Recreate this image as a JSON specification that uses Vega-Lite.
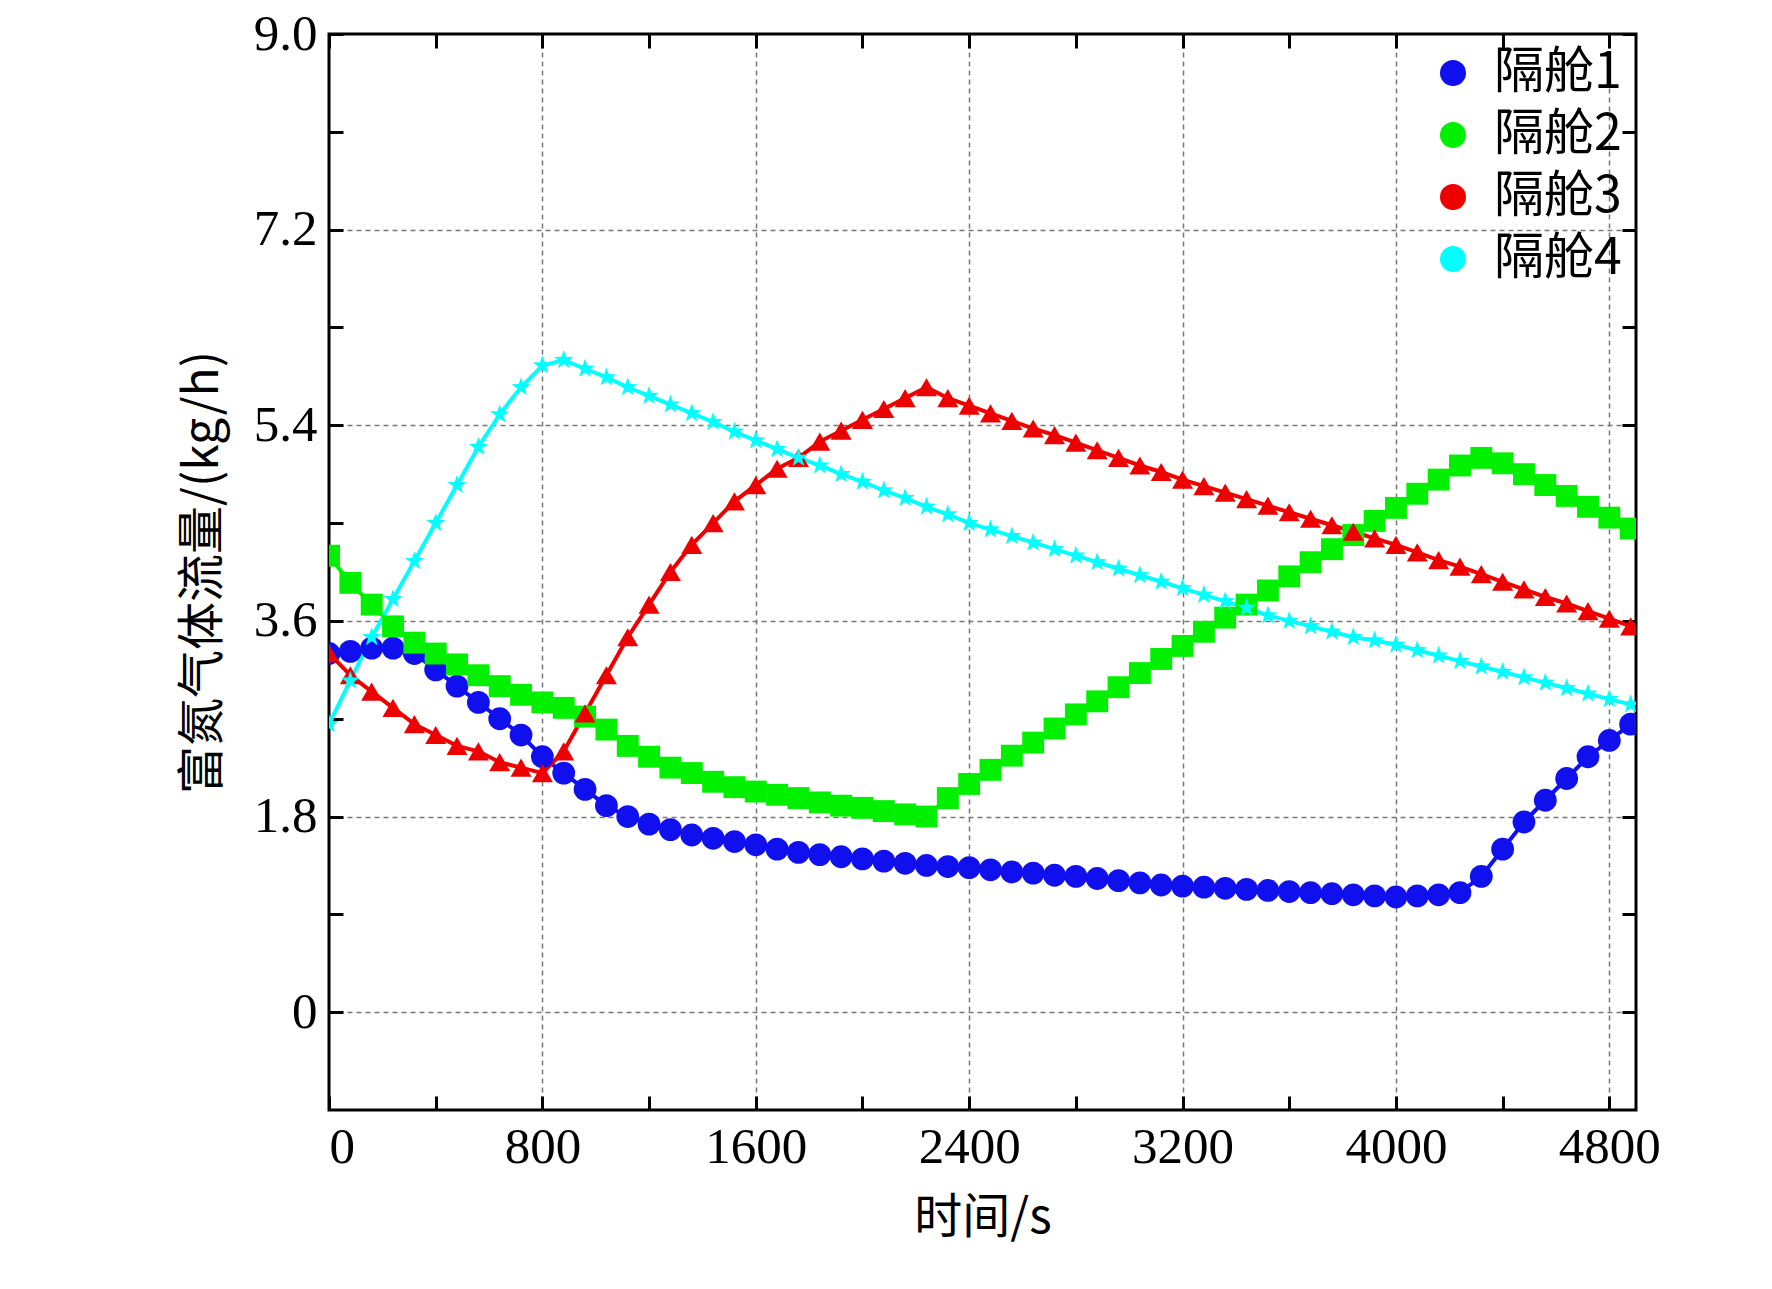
{
  "$schema": "https://vega.github.io/schema/vega-lite/v6.json",
  "autosize": "none",
  "padding": {"left": 329, "top": 34, "right": 136, "bottom": 179},
  "width": 1307,
  "height": 1076,
  "background": "white",
  "config": {
    "font": "Liberation Serif",
    "view": {"stroke": "black", "strokeWidth": 3},
    "axis": {
      "labelFont": "Liberation Serif", "labelFontSize": 51, "labelColor": "black",
      "titleFont": "Noto Sans CJK SC", "titleFontSize": 48, "titleFontWeight": "normal", "titleColor": "black",
      "domain": false, "tickColor": "black", "tickWidth": 3, "tickSize": -14, "labelPadding": 26,
      "gridColor": "#777777", "gridDash": [5, 4], "gridWidth": 1.5
    },
    "legend": {
      "orient": "top-right", "title": null, "labelFont": "Noto Sans CJK SC", "labelFontSize": 50,
      "labelColor": "black", "symbolSize": 600, "rowPadding": 12, "offset": 14, "labelOffset": 16
    }
  },
  "data": {"values": [
    {"t":0,"a":3.3,"b":4.2,"c":3.3,"d":2.65},
    {"t":80,"a":3.32,"b":3.95,"c":3.1,"d":3.05},
    {"t":160,"a":3.35,"b":3.75,"c":2.95,"d":3.45},
    {"t":240,"a":3.35,"b":3.55,"c":2.8,"d":3.8},
    {"t":320,"a":3.3,"b":3.4,"c":2.65,"d":4.15},
    {"t":400,"a":3.15,"b":3.3,"c":2.55,"d":4.5},
    {"t":480,"a":3.0,"b":3.2,"c":2.45,"d":4.85},
    {"t":560,"a":2.85,"b":3.1,"c":2.4,"d":5.2},
    {"t":640,"a":2.7,"b":3.0,"c":2.3,"d":5.5},
    {"t":720,"a":2.55,"b":2.92,"c":2.25,"d":5.75},
    {"t":800,"a":2.35,"b":2.85,"c":2.2,"d":5.95},
    {"t":880,"a":2.2,"b":2.8,"c":2.4,"d":6.0},
    {"t":960,"a":2.05,"b":2.72,"c":2.75,"d":5.92},
    {"t":1040,"a":1.9,"b":2.6,"c":3.1,"d":5.84},
    {"t":1120,"a":1.8,"b":2.45,"c":3.45,"d":5.75},
    {"t":1200,"a":1.73,"b":2.35,"c":3.75,"d":5.67},
    {"t":1280,"a":1.68,"b":2.25,"c":4.05,"d":5.59},
    {"t":1360,"a":1.63,"b":2.2,"c":4.3,"d":5.51},
    {"t":1440,"a":1.6,"b":2.12,"c":4.5,"d":5.43},
    {"t":1520,"a":1.57,"b":2.07,"c":4.7,"d":5.34},
    {"t":1600,"a":1.54,"b":2.03,"c":4.85,"d":5.26},
    {"t":1680,"a":1.5,"b":2.0,"c":5.0,"d":5.18},
    {"t":1760,"a":1.47,"b":1.97,"c":5.1,"d":5.1},
    {"t":1840,"a":1.45,"b":1.93,"c":5.25,"d":5.03},
    {"t":1920,"a":1.43,"b":1.9,"c":5.35,"d":4.95},
    {"t":2000,"a":1.41,"b":1.88,"c":5.45,"d":4.88},
    {"t":2080,"a":1.39,"b":1.85,"c":5.55,"d":4.8},
    {"t":2160,"a":1.37,"b":1.82,"c":5.65,"d":4.73},
    {"t":2240,"a":1.35,"b":1.8,"c":5.75,"d":4.65},
    {"t":2320,"a":1.34,"b":1.97,"c":5.65,"d":4.58},
    {"t":2400,"a":1.33,"b":2.1,"c":5.58,"d":4.5},
    {"t":2480,"a":1.31,"b":2.23,"c":5.51,"d":4.44},
    {"t":2560,"a":1.29,"b":2.36,"c":5.44,"d":4.38},
    {"t":2640,"a":1.28,"b":2.48,"c":5.37,"d":4.32},
    {"t":2720,"a":1.26,"b":2.61,"c":5.31,"d":4.26},
    {"t":2800,"a":1.25,"b":2.74,"c":5.24,"d":4.2},
    {"t":2880,"a":1.23,"b":2.86,"c":5.17,"d":4.14},
    {"t":2960,"a":1.21,"b":2.99,"c":5.1,"d":4.08},
    {"t":3040,"a":1.19,"b":3.12,"c":5.03,"d":4.02},
    {"t":3120,"a":1.17,"b":3.25,"c":4.97,"d":3.96},
    {"t":3200,"a":1.16,"b":3.37,"c":4.9,"d":3.9},
    {"t":3280,"a":1.15,"b":3.5,"c":4.84,"d":3.84},
    {"t":3360,"a":1.14,"b":3.63,"c":4.78,"d":3.78},
    {"t":3440,"a":1.13,"b":3.75,"c":4.72,"d":3.72},
    {"t":3520,"a":1.12,"b":3.88,"c":4.66,"d":3.65},
    {"t":3600,"a":1.11,"b":4.01,"c":4.6,"d":3.6},
    {"t":3680,"a":1.1,"b":4.14,"c":4.54,"d":3.55},
    {"t":3760,"a":1.09,"b":4.26,"c":4.48,"d":3.5},
    {"t":3840,"a":1.08,"b":4.39,"c":4.42,"d":3.45},
    {"t":3920,"a":1.07,"b":4.52,"c":4.36,"d":3.42},
    {"t":4000,"a":1.06,"b":4.64,"c":4.3,"d":3.38},
    {"t":4080,"a":1.07,"b":4.77,"c":4.23,"d":3.33},
    {"t":4160,"a":1.08,"b":4.9,"c":4.16,"d":3.28},
    {"t":4240,"a":1.1,"b":5.03,"c":4.1,"d":3.23},
    {"t":4320,"a":1.25,"b":5.1,"c":4.03,"d":3.18},
    {"t":4400,"a":1.5,"b":5.05,"c":3.96,"d":3.13},
    {"t":4480,"a":1.75,"b":4.95,"c":3.89,"d":3.08},
    {"t":4560,"a":1.95,"b":4.85,"c":3.82,"d":3.03},
    {"t":4640,"a":2.15,"b":4.75,"c":3.76,"d":2.98},
    {"t":4720,"a":2.35,"b":4.65,"c":3.69,"d":2.93},
    {"t":4800,"a":2.5,"b":4.55,"c":3.62,"d":2.88},
    {"t":4880,"a":2.65,"b":4.45,"c":3.55,"d":2.83}
  ]},
  "transform": [
    {"fold": ["a", "b", "c", "d"], "as": ["k", "v"]},
    {"lookup": "k", "from": {"data": {"values": [
      {"k": "a", "s": "隔舱1"}, {"k": "b", "s": "隔舱2"}, {"k": "c", "s": "隔舱3"}, {"k": "d", "s": "隔舱4"}
    ]}, "key": "k", "fields": ["s"]}}
  ],
  "layer": [
    {
      "mark": {"type": "line", "strokeWidth": 4, "clip": true},
      "encoding": {
        "x": {"field": "t", "type": "quantitative", "scale": {"domain": [0, 4900], "nice": false},
          "axis": {"values": [0,400,800,1200,1600,2000,2400,2800,3200,3600,4000,4400,4800],
            "labelExpr": "datum.value % 800 === 0 ? datum.value : ''",
            "gridOpacity": {"expr": "datum.value % 800 === 0 && datum.value > 0 ? 1 : 0"},
            "title": "时间/s", "titlePadding": 22}},
        "y": {"field": "v", "type": "quantitative", "scale": {"domain": [-0.9, 9.0], "nice": false},
          "axis": {"values": [0,0.9,1.8,2.7,3.6,4.5,5.4,6.3,7.2,8.1,9.0],
            "labelExpr": "round(datum.value*10) % 18 === 0 ? (datum.value === 0 ? '0' : format(datum.value, '.1f')) : ''",
            "gridOpacity": {"expr": "round(datum.value*10) % 18 === 0 && datum.value < 9 ? 1 : 0"},
            "title": "富氮气体流量/(kg/h)", "titlePadding": 26}},
        "color": {"field": "s", "type": "nominal", "scale": {"range": ["#1010ee", "#00f000", "#ee0000", "#00ffff"]}},
        "detail": {"field": "s"}
      }
    },
    {
      "mark": {"type": "point", "filled": true, "opacity": 1, "clip": true},
      "encoding": {
        "x": {"field": "t", "type": "quantitative", "axis": {"orient": "top", "values": [0,400,800,1200,1600,2000,2400,2800,3200,3600,4000,4400,4800], "labels": false, "grid": false, "title": null}},
        "y": {"field": "v", "type": "quantitative", "axis": {"orient": "right", "values": [0,0.9,1.8,2.7,3.6,4.5,5.4,6.3,7.2,8.1,9.0], "labels": false, "grid": false, "title": null}},
        "color": {"field": "s", "type": "nominal", "scale": {"range": ["#1010ee", "#00f000", "#ee0000", "#00ffff"]}},
        "shape": {"field": "s", "type": "nominal", "scale": {"range": ["circle", "square", "triangle-up", "M0,-1L0.235,-0.324L0.951,-0.309L0.38,0.124L0.588,0.809L0,0.4L-0.588,0.809L-0.38,0.124L-0.951,-0.309L-0.235,-0.324Z"]}},
        "size": {"field": "s", "type": "nominal", "scale": {"range": [520, 400, 600, 650]}, "legend": null}
      }
    }
  ],
  "resolve": {"axis": {"x": "independent", "y": "independent"}}
}
